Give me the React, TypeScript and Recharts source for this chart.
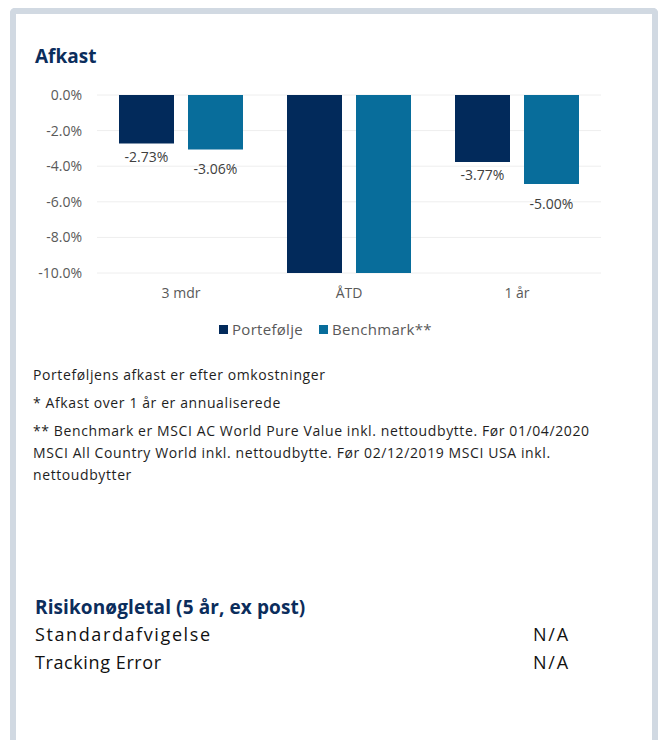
import React from "react";
import { BarChart, Bar, XAxis, YAxis, CartesianGrid, LabelList } from "recharts";

const categories = ["3 mdr", "ÅTD", "1 år"];
const portfolio = [-2.73, -12.1, -3.77];
const benchmark = [-3.06, -13.4, -5.0];
const yTicks = [0, -2, -4, -6, -8, -10];

const footnotes = [
  ["Porteføljens afkast er efter omkostninger"],
  ["* Afkast over 1 år er annualiserede"],
  [
    "** Benchmark er MSCI AC World Pure Value inkl. nettoudbytte. Før 01/04/2020",
    "MSCI All Country World inkl. nettoudbytte. Før 02/12/2019 MSCI USA inkl.",
    "nettoudbytter",
  ],
];

const riskRows = [
  { label: "Standardafvigelse", value: "N/A", spacing: 1.6 },
  { label: "Tracking Error", value: "N/A", spacing: 0.6 },
];

const NAVY = "#022a5b";
const TEAL = "#086d9b";
const FONT = "'Open Sans', sans-serif";

const chartData = categories.map((c, i) => ({
  name: c,
  portfolio: portfolio[i],
  benchmark: benchmark[i],
}));

// labels sit under the bar end; values beyond the -10% floor get none
function makeLabel(offset: number) {
  return (props: any) => {
    const { x, y, width, height, value } = props;
    if (value < -10) return null;
    const bottom = Math.max(Number(y), Number(y) + Number(height));
    return (
      <text
        x={Number(x) + Number(width) / 2}
        y={bottom + offset}
        textAnchor="middle"
        fontSize={14}
        fontFamily={FONT}
        fill="#404040"
      >
        {Number(value).toFixed(2) + "%"}
      </text>
    );
  };
}

export default function App() {
  return (
    <div style={{ position: "absolute", left: 0, top: 0, width: 658, height: 740, background: "#fff", fontFamily: FONT }}>
      <div
        style={{
          position: "absolute",
          left: 10,
          top: 8,
          width: 636,
          height: 726,
          border: "6px solid #d1d9e2",
          borderBottom: "none",
          borderRadius: "5px 5px 0 0",
        }}
      />
      <div style={{ position: "absolute", left: 35, top: 44, fontSize: 19, fontWeight: 700, color: "#0b2d5c", lineHeight: "24px" }}>
        Afkast
      </div>

      <div style={{ position: "absolute", left: 0, top: 0 }}>
        <BarChart
          width={658}
          height={310}
          data={chartData}
          margin={{ top: 95, right: 57, left: 0, bottom: 7 }}
          barCategoryGap={22}
          barGap={14}
        >
          <CartesianGrid vertical={false} stroke="#eeeeee" />
          <XAxis
            dataKey="name"
            axisLine={false}
            tickLine={false}
            height={30}
            tickMargin={9}
            tick={{ fontSize: 14, fill: "#595959", fontFamily: FONT }}
          />
          <YAxis
            width={97}
            domain={[-10, 0]}
            ticks={yTicks}
            allowDataOverflow
            axisLine={false}
            tickLine={false}
            tickMargin={9}
            tickFormatter={(v: number) => v.toFixed(1) + "%"}
            tick={{ fontSize: 14, fill: "#595959", fontFamily: FONT }}
          />
          <Bar dataKey="portfolio" fill={NAVY} isAnimationActive={false}>
            <LabelList dataKey="portfolio" content={makeLabel(18)} />
          </Bar>
          <Bar dataKey="benchmark" fill={TEAL} isAnimationActive={false}>
            <LabelList dataKey="benchmark" content={makeLabel(25)} />
          </Bar>
        </BarChart>
      </div>

      <div style={{ position: "absolute", left: 219, top: 319, display: "flex", alignItems: "center", fontSize: 15, letterSpacing: 0.3, color: "#595959", whiteSpace: "nowrap", lineHeight: "20px" }}>
        <span style={{ width: 9, height: 9, background: NAVY, display: "inline-block", marginRight: 4 }} />
        <span>Portefølje</span>
        <span style={{ width: 9, height: 9, background: TEAL, display: "inline-block", marginLeft: 16, marginRight: 4 }} />
        <span>Benchmark**</span>
      </div>

      <div style={{ position: "absolute", left: 33, top: 364, fontSize: 14, letterSpacing: 0.6, color: "#1e1e1e", whiteSpace: "nowrap" }}>
        {footnotes.map((p, i) => (
          <div key={i} style={{ marginBottom: 6 }}>
            {p.map((line, j) => (
              <div key={j} style={{ lineHeight: "22px" }}>{line}</div>
            ))}
          </div>
        ))}
      </div>

      <div style={{ position: "absolute", left: 35, top: 595, fontSize: 19, letterSpacing: 0.1, fontWeight: 700, color: "#0b2d5c", lineHeight: "24px", whiteSpace: "nowrap" }}>
        Risikonøgletal (5 år, ex post)
      </div>
      {riskRows.map((r, i) => (
        <div key={r.label} style={{ position: "absolute", left: 35, top: 622 + i * 28, width: 560, fontSize: 18, color: "#111", lineHeight: "24px", whiteSpace: "nowrap" }}>
          <span style={{ letterSpacing: r.spacing }}>{r.label}</span>
          <span style={{ position: "absolute", left: 498, letterSpacing: 1.8 }}>{r.value}</span>
        </div>
      ))}
    </div>
  );
}
